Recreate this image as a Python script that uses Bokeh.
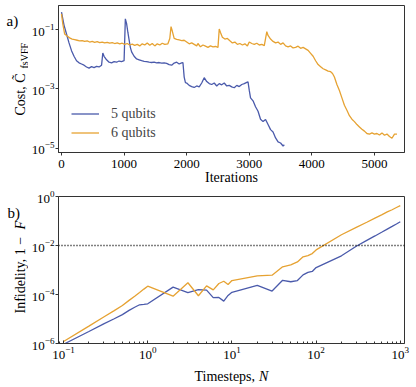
import numpy as np
from bokeh.plotting import figure
from bokeh.models import (Label, Legend, LegendItem, Span, FixedTicker, LogTicker)
from bokeh.layouts import column, row
from bokeh.embed import file_html
from bokeh.resources import INLINE

# ---------------- data: panel a) ----------------
blue_iter = [0, 40, 80, 120, 160, 200, 240, 280, 320, 360, 400, 440, 480, 520, 560, 600, 640, 660, 680, 720,
             760, 800, 840, 880, 920, 960, 1000, 1020, 1040, 1060, 1080, 1100, 1120, 1160, 1200, 1240, 1280,
             1320, 1360, 1400, 1440, 1480, 1520, 1560, 1600, 1640, 1680, 1720, 1760, 1800, 1840, 1880, 1920,
             1940, 1960, 1980, 2000, 2040, 2080, 2120, 2160, 2200, 2240, 2280, 2320, 2360, 2400, 2440, 2480,
             2520, 2560, 2600, 2640, 2680, 2720, 2760, 2800, 2840, 2880, 2920, 2960, 2980, 3000, 3020, 3060,
             3100, 3140, 3180, 3220, 3260, 3300, 3340, 3380, 3420, 3460, 3500, 3540, 3560]
blue_cost_log10 = [-0.41, -0.85, -1.15, -1.45, -1.71, -1.90, -2.05, -2.12, -2.16, -2.20, -2.26, -2.30, -2.25,
                   -2.28, -2.24, -2.26, -2.20, -1.79, -1.90, -2.02, -2.10, -2.12, -2.08, -2.10, -2.06, -2.08,
                   -2.05, -0.64, -0.80, -1.09, -1.35, -1.60, -1.75, -1.90, -1.99, -2.02, -2.05, -2.07, -2.08,
                   -2.10, -2.11, -2.10, -2.12, -2.11, -2.13, -2.12, -2.14, -2.18, -2.20, -2.13, -2.10, -2.16,
                   -2.12, -2.11, -2.60, -2.79, -2.80, -2.88, -2.92, -2.95, -2.90, -2.93, -2.80, -2.62, -2.75,
                   -2.82, -2.85, -2.80, -2.90, -2.82, -2.86, -2.80, -2.90, -2.88, -2.93, -2.96, -2.88, -2.92,
                   -2.85, -2.82, -2.78, -2.76, -3.05, -3.30, -3.40, -3.60, -3.75, -4.02, -4.10, -4.03, -4.20,
                   -4.37, -4.45, -4.65, -4.78, -4.82, -4.92, -4.88]

orange_iter = [0, 20, 50, 90, 130, 170, 210, 250, 290, 330, 370, 410, 450, 490, 530, 570, 610, 650, 690, 730,
               770, 810, 850, 890, 930, 970, 1010, 1050, 1090, 1130, 1170, 1210, 1250, 1290, 1330, 1370, 1410,
               1450, 1490, 1530, 1570, 1610, 1650, 1700, 1730, 1750, 1770, 1800, 1840, 1880, 1920, 1960, 2000,
               2040, 2080, 2120, 2160, 2180, 2220, 2260, 2300, 2340, 2380, 2420, 2460, 2500, 2520, 2540, 2570,
               2610, 2650, 2690, 2730, 2770, 2810, 2850, 2890, 2930, 2970, 3000, 3040, 3080, 3120, 3160, 3200,
               3240, 3280, 3300, 3340, 3380, 3420, 3460, 3500, 3540, 3580, 3620, 3660, 3700, 3740, 3780, 3820,
               3860, 3900, 3940, 3980, 4020, 4060, 4100, 4140, 4180, 4220, 4260, 4300, 4330, 4360, 4400, 4440,
               4480, 4520, 4560, 4600, 4640, 4680, 4720, 4760, 4800, 4840, 4880, 4920, 4960, 5000, 5040, 5080,
               5120, 5160, 5200, 5240, 5280, 5320, 5360]
orange_cost_log10 = [-0.47, -0.80, -1.15, -1.22, -1.28, -1.32, -1.34, -1.36, -1.38, -1.37, -1.40, -1.38, -1.42,
                     -1.40, -1.43, -1.41, -1.44, -1.42, -1.45, -1.43, -1.46, -1.44, -1.47, -1.45, -1.48, -1.46,
                     -1.50, -1.47, -1.52, -1.49, -1.53, -1.50, -1.55, -1.48, -1.52, -1.45, -1.53, -1.47, -1.55,
                     -1.48, -1.52, -1.46, -1.50, -1.48, -1.30, -0.90, -1.05, -1.30, -1.33, -1.35, -1.37, -1.36,
                     -1.42, -1.48, -1.45, -1.50, -1.55, -1.47, -1.58, -1.52, -1.56, -1.60, -1.55, -1.58, -1.57,
                     -1.60, -0.98, -1.10, -1.26, -1.32, -1.30, -1.38, -1.45, -1.42, -1.50, -1.47, -1.52, -1.48,
                     -1.55, -1.42, -1.47, -1.50, -1.46, -1.52, -1.50, -1.54, -1.07, -1.20, -1.32, -1.40, -1.45,
                     -1.42, -1.50, -1.45, -1.55, -1.58, -1.55, -1.62, -1.60, -1.56, -1.63, -1.60, -1.65, -1.70,
                     -1.80, -1.90, -2.05, -2.18, -2.25, -2.32, -2.36, -2.40, -2.42, -2.48, -2.60, -2.85, -3.05,
                     -3.30, -3.55, -3.72, -3.90, -4.02, -4.10, -4.20, -4.28, -4.36, -4.42, -4.50, -4.52, -4.48,
                     -4.52, -4.50, -4.55, -4.48, -4.56, -4.52, -4.60, -4.66, -4.52, -4.52]

# ---------------- data: panel b) ----------------
timesteps = [0.1, 0.2, 0.3, 0.4, 0.5, 0.6, 0.7, 0.8, 0.9, 1,
             2, 3, 4, 5, 6, 7, 8, 9, 10,
             20, 30, 40, 50, 60, 70, 80, 90, 100,
             200, 300, 400, 500, 600, 700, 800, 900, 1000]
infid5_log10 = [-6.03, -5.51, -5.20, -4.99, -4.82, -4.65, -4.52, -4.42, -4.40, -4.38,
                -3.70, -3.92, -3.80, -3.82, -4.13, -4.12, -4.27, -4.04, -3.91,
                -3.63, -3.86, -3.42, -3.48, -3.43, -3.20, -3.10, -3.06, -2.90,
                -2.42, -2.03, -1.79, -1.61, -1.46, -1.33, -1.22, -1.12, -1.03]
infid6_log10 = [-5.92, -5.29, -4.92, -4.66, -4.45, -4.24, -4.07, -3.92, -3.78, -3.66,
                -4.07, -3.52, -4.05, -3.65, -3.81, -3.55, -3.46, -3.59, -3.43,
                -3.24, -3.21, -2.87, -2.79, -2.67, -2.46, -2.41, -2.33, -2.18,
                -1.56, -1.26, -1.05, -0.88, -0.75, -0.63, -0.54, -0.45, -0.37]
threshold = 1e-2

labels_series = ["5 qubits", "6 qubits"]

BLUE = "#4a5aab"
ORANGE = "#e6a232"
FONT = "Liberation Serif"
FRAME = "#333333"

blue_cost = 10.0 ** np.array(blue_cost_log10)
orange_cost = 10.0 ** np.array(orange_cost_log10)
infid5 = 10.0 ** np.array(infid5_log10)
infid6 = 10.0 ** np.array(infid6_log10)


def style(p):
    p.outline_line_color = FRAME
    p.outline_line_width = 1
    p.grid.visible = False
    p.background_fill_color = "white"
    p.border_fill_color = "white"
    for ax in (p.xaxis[0], p.yaxis[0]):
        ax.axis_line_color = FRAME
        ax.major_tick_line_color = FRAME
        ax.minor_tick_line_color = FRAME
        ax.major_label_text_font = FONT
        ax.major_label_text_font_size = "13px"
        ax.major_label_text_color = "black"


def strip(w, h):
    s = figure(width=w, height=h, x_range=(0, 1), y_range=(0, 1), output_backend="svg", title=None,
               toolbar_location=None, x_axis_location=None, y_axis_location=None,
               min_border=0, min_border_left=0, min_border_right=0, min_border_top=0, min_border_bottom=0)
    s.outline_line_color = None
    s.grid.visible = False
    s.background_fill_color = "white"
    s.border_fill_color = "white"
    return s


def lab(p, text, x, y, size="14px", angle=0.0, style_="normal", align="left"):
    p.add_layout(Label(x=x, y=y, x_units="screen", y_units="screen", text=text, angle=angle,
                       text_font=FONT, text_font_size=size, text_font_style=style_,
                       text_align=align, text_baseline="alphabetic", text_color="black"))


SW = 28  # width of the left label strips

# ---------------- panel a ----------------
p1 = figure(width=412 - SW, height=189, x_range=(-48, 5480), y_range=(10 ** -5.14, 10 ** -0.19),
            y_axis_type="log", output_backend="svg", toolbar_location=None, title=None,
            min_border_left=57 - SW, min_border_right=8, min_border_top=5, min_border_bottom=37)
style(p1)
r5 = p1.line(blue_iter, blue_cost, line_color=BLUE, line_width=1.3)
r6 = p1.line(orange_iter, orange_cost, line_color=ORANGE, line_width=1.3)
p1.xaxis.ticker = FixedTicker(ticks=[0, 1000, 2000, 3000, 4000, 5000])
p1.yaxis.ticker = FixedTicker(ticks=[1e-5, 1e-3, 1e-1])
p1.xaxis.major_tick_in = 0
p1.xaxis.major_tick_out = 3
p1.yaxis.major_tick_in = 0
p1.yaxis.major_tick_out = 3
p1.xaxis.minor_tick_out = 0
p1.yaxis.minor_tick_out = 0
p1.xaxis.major_label_standoff = 4
p1.yaxis.major_label_standoff = 1
p1.xaxis.axis_label = "Iterations"
p1.xaxis.axis_label_text_font = FONT
p1.xaxis.axis_label_text_font_size = "14px"
p1.xaxis.axis_label_text_font_style = "normal"
p1.xaxis.axis_label_text_color = "black"
p1.xaxis.axis_label_standoff = -1

leg = Legend(items=[LegendItem(label=labels_series[0], renderers=[r5]),
                    LegendItem(label=labels_series[1], renderers=[r6])],
             location=(13, 11), border_line_color=None, background_fill_alpha=0,
             glyph_width=28, glyph_height=17, label_height=17, spacing=2, padding=0, margin=0,
             label_standoff=12, label_text_font=FONT, label_text_font_size="14px")
p1.add_layout(leg, "center")

# label strip: its frame is aligned with p1's frame (page y 5..152), coords from frame bottom
s1 = strip(SW, 189)
lab(s1, "a)", 6, 132, size="15px")
lab(s1, "Cost, C\u0303", 20, 37, angle=np.pi / 2)
lab(s1, "fsVFF", 23.5, 84, size="10px", angle=np.pi / 2)

# ---------------- panel b ----------------
p2 = figure(width=412 - SW, height=176, x_range=(10 ** -1.06, 10 ** 3.05), y_range=(1e-6, 1e0),
            x_axis_type="log", y_axis_type="log", output_backend="svg", toolbar_location=None, title=None,
            min_border_left=57 - SW, min_border_right=8, min_border_top=7, min_border_bottom=22)
style(p2)
p2.line(timesteps, infid5, line_color=BLUE, line_width=1.3)
p2.line(timesteps, infid6, line_color=ORANGE, line_width=1.3)
p2.add_layout(Span(location=threshold, dimension="width", line_color="black",
                   line_dash="1 2", line_width=1.4))
p2.xaxis.ticker = LogTicker(num_minor_ticks=10)
p2.yaxis.ticker = FixedTicker(ticks=[1e-6, 1e-4, 1e-2, 1e0])
p2.xaxis.major_tick_in = 3
p2.xaxis.major_tick_out = 0
p2.xaxis.minor_tick_in = 2
p2.xaxis.minor_tick_out = 0
p2.yaxis.major_tick_in = 0
p2.yaxis.major_tick_out = 3
p2.yaxis.minor_tick_out = 0
p2.xaxis.major_label_standoff = 3
p2.yaxis.major_label_standoff = 1

# label strip: frame aligned with p2's frame (page y 196..343)
s2 = strip(SW, 176)
lab(s2, "b)", 7, 131, size="15px")
lab(s2, "Infidelity, 1 \u2212 ", 20, 30, angle=np.pi / 2)
lab(s2, "F", 20, 114, angle=np.pi / 2, style_="italic")

s3 = strip(412, 22)
lab(s3, "Timesteps, ", 194, 11)
lab(s3, "N", 258.5, 11, style_="italic")

layout = column(row(s1, p1, spacing=0), row(s2, p2, spacing=0), s3, spacing=0)
open("out.html", "w").write(file_html(layout, INLINE))
